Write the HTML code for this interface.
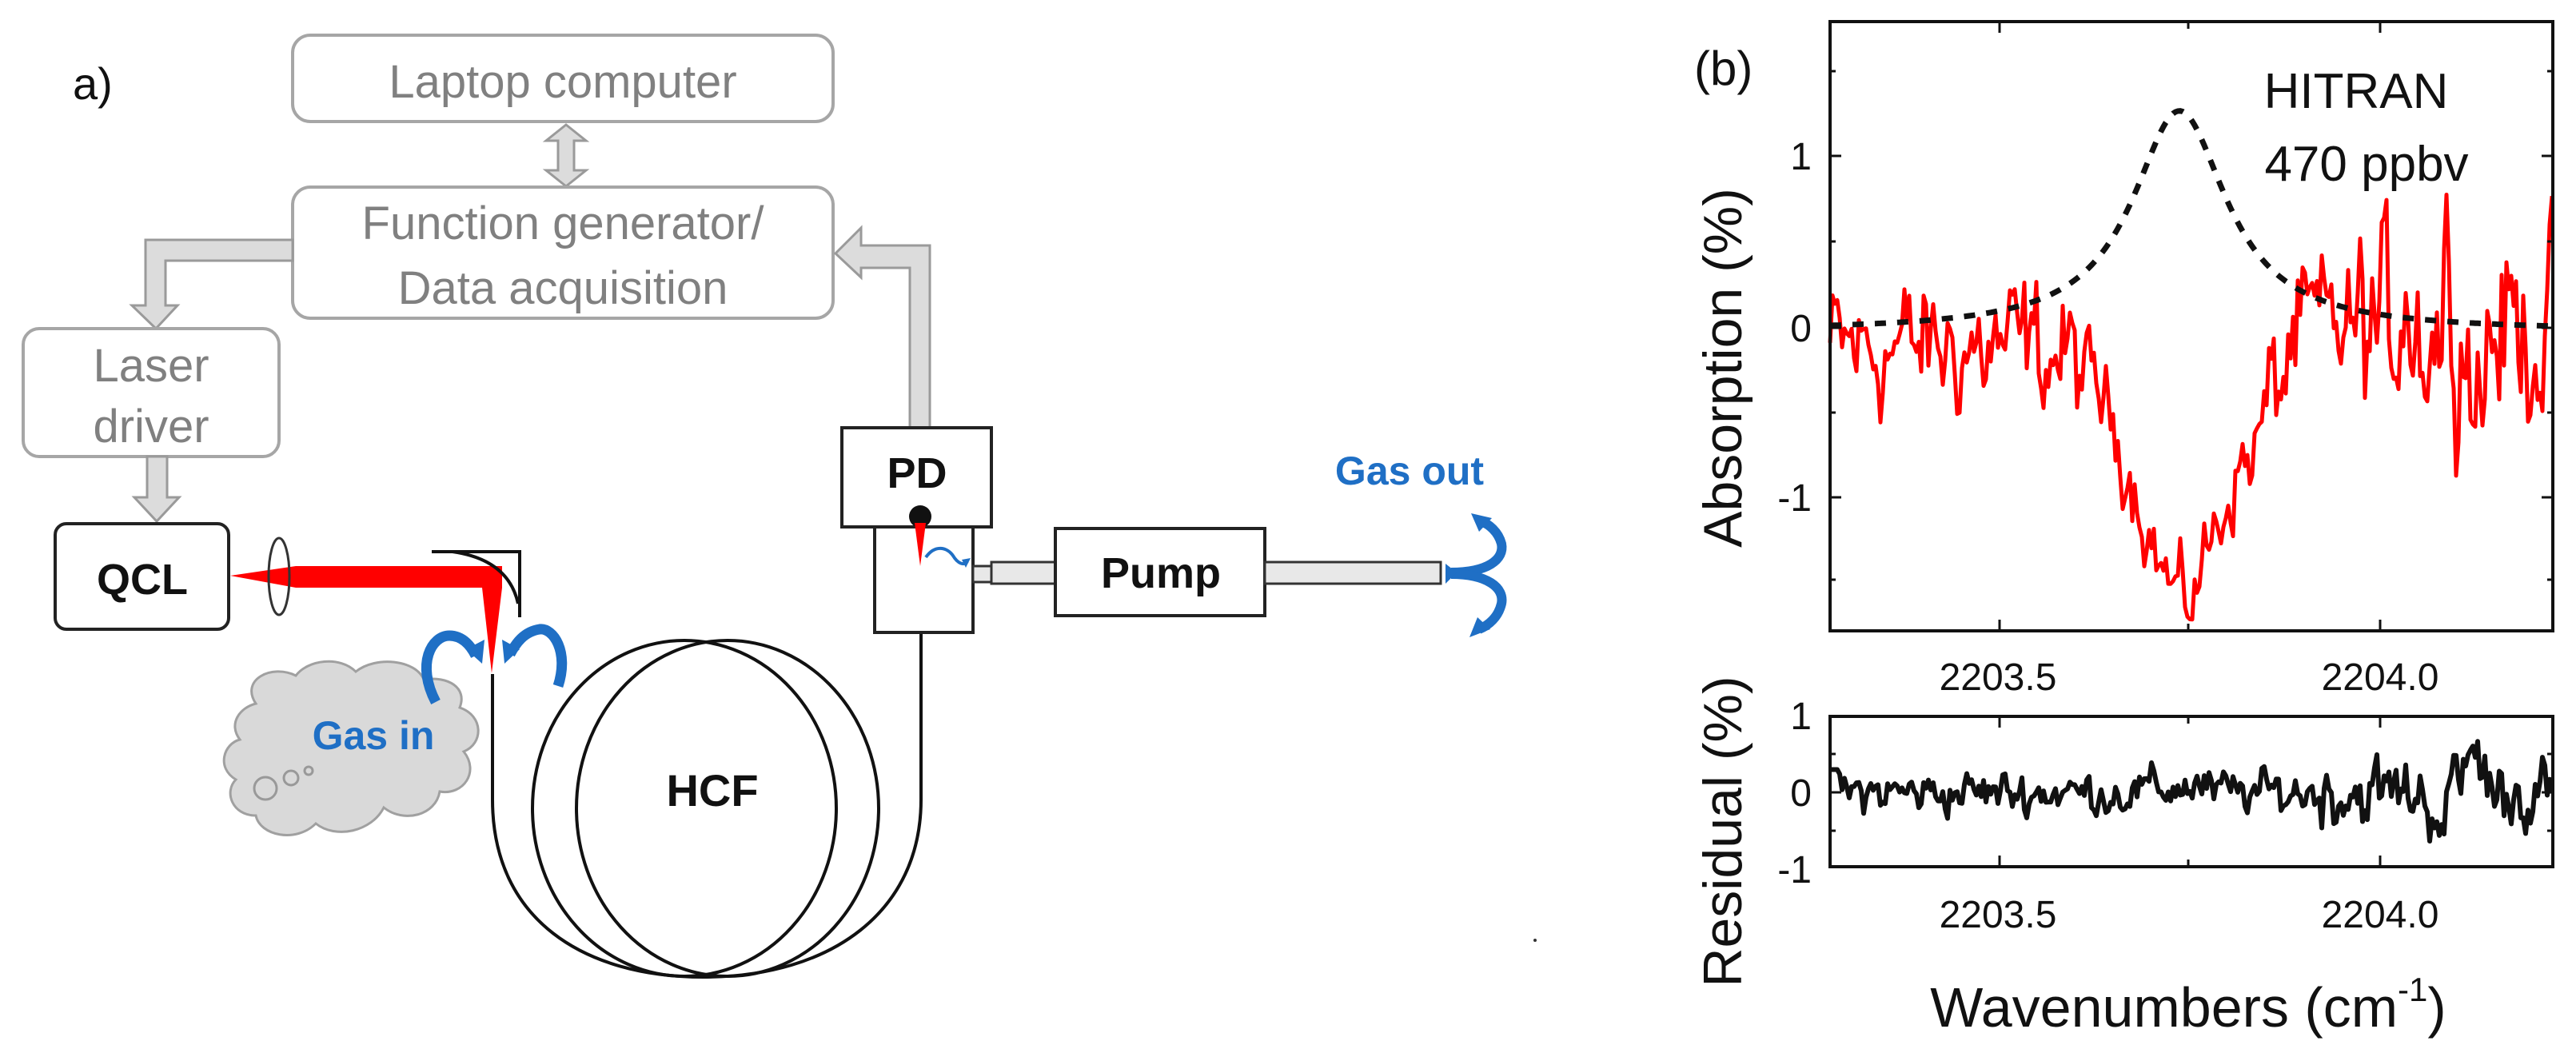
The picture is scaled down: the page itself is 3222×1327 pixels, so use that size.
<!DOCTYPE html>
<html><head><meta charset="utf-8"><style>
html,body{margin:0;padding:0;background:#fff;}
svg{display:block;}
text{font-family:"Liberation Sans",Arial,sans-serif;}
</style></head><body>
<svg id="s" width="3222" height="1327" viewBox="0 0 3222 1327" xmlns="http://www.w3.org/2000/svg">
<rect width="3222" height="1327" fill="#fff"/>
<text x="91" y="124" font-size="56" fill="#111">a)</text>
<rect x="366" y="44" width="676" height="108" rx="22" fill="#fff" stroke="#a6a6a6" stroke-width="4"/>
<text x="704" y="122" font-size="58" fill="#808080" text-anchor="middle">Laptop computer</text>
<polygon points="708,156 733,176 718,176 718,213 733,213 708,233 683,213 698,213 698,176 683,176" fill="#dcdcdc" stroke="#9a9a9a" stroke-width="3"/>
<rect x="366" y="234" width="676" height="164" rx="22" fill="#fff" stroke="#a6a6a6" stroke-width="4"/>
<text x="704" y="299" font-size="58" fill="#808080" text-anchor="middle">Function generator/</text>
<text x="704" y="380" font-size="58" fill="#808080" text-anchor="middle">Data acquisition</text>
<polygon points="366,300 182,300 182,382 165,382 195,411 222,382 207,382 207,326 366,326" fill="#dcdcdc" stroke="#9a9a9a" stroke-width="3"/>
<rect x="29" y="411" width="320" height="160" rx="20" fill="#fff" stroke="#a6a6a6" stroke-width="4"/>
<text x="189" y="477" font-size="58" fill="#808080" text-anchor="middle">Laser</text>
<text x="189" y="553" font-size="58" fill="#808080" text-anchor="middle">driver</text>
<polygon points="184,571 209,571 209,622 224,622 196,652 168,622 184,622" fill="#dcdcdc" stroke="#9a9a9a" stroke-width="3"/>
<rect x="69" y="655" width="217" height="132" rx="14" fill="#fff" stroke="#222" stroke-width="4"/>
<text x="178" y="743" font-size="54" font-weight="bold" fill="#111" text-anchor="middle">QCL</text>
<polygon points="288,720 370,708 628,708 628,735 615,842 603,735 370,735" fill="#ff0000"/>
<ellipse cx="349" cy="721" rx="13" ry="48" fill="none" stroke="#333" stroke-width="3"/>
<polyline points="540,690 650,690 650,772" fill="none" stroke="#111" stroke-width="4"/>
<path d="M566,690 Q636,700 648,755" fill="none" stroke="#111" stroke-width="4"/>
<g fill="none" stroke="#111" stroke-width="4">
<path d="M616,843 L616,1000 C616,1150 730,1222 880,1222 C1040,1222 1152,1140 1152,1000 L1152,710"/>
<ellipse cx="856" cy="1011" rx="190" ry="210"/>
<ellipse cx="910" cy="1011" rx="189" ry="210"/>
</g>
<g>
<path d="M320,880 C300,850 340,830 370,845 C385,825 425,820 445,840 C470,820 520,825 530,850 C560,845 585,860 575,885 C605,895 605,930 580,940 C600,965 580,995 550,990 C545,1020 505,1030 480,1010 C465,1040 420,1050 395,1030 C370,1055 325,1045 320,1020 C290,1020 280,990 295,975 C270,960 280,930 300,925 C285,905 300,885 320,880 Z" fill="#d9d9d9" stroke="#a0a0a0" stroke-width="3"/>
<circle cx="332" cy="986" r="14" fill="none" stroke="#999" stroke-width="3"/>
<circle cx="364" cy="973" r="9" fill="none" stroke="#999" stroke-width="3"/>
<circle cx="386" cy="964" r="5" fill="none" stroke="#999" stroke-width="3"/>
</g>
<text x="467" y="937" font-size="50" font-weight="bold" fill="#1f6fc5" text-anchor="middle">Gas in</text>
<g fill="none" stroke="#1f6fc5" stroke-width="13">
<path d="M545,878 C520,830 540,795 562,795 C580,795 590,810 595,820"/>
<path d="M698,858 C712,815 692,785 675,787 C655,790 645,805 638,818"/>
</g>
<polygon points="583,812 606,800 603,830" fill="#1f6fc5"/>
<polygon points="650,812 628,800 631,830" fill="#1f6fc5"/>
<text x="891" y="1008" font-size="56" font-weight="bold" fill="#111" text-anchor="middle">HCF</text>
<polygon points="1138,535 1138,335 1077,335 1077,347 1045,317 1077,285 1077,307 1163,307 1163,535" fill="#dcdcdc" stroke="#9a9a9a" stroke-width="3"/>
<rect x="1053" y="535" width="187" height="124" fill="#fff" stroke="#222" stroke-width="4"/>
<text x="1147" y="610" font-size="54" font-weight="bold" fill="#111" text-anchor="middle">PD</text>
<rect x="1094" y="659" width="123" height="132" fill="#fff" stroke="#222" stroke-width="4"/>
<circle cx="1151" cy="646" r="14" fill="#111"/>
<polygon points="1144,654 1158,654 1151,708" fill="#ff0000"/>
<path d="M1158,697 C1170,680 1185,685 1192,695 C1198,705 1206,708 1210,702" fill="none" stroke="#1f6fc5" stroke-width="4"/>
<polygon points="1203,700 1214,698 1208,710" fill="#1f6fc5"/>
<rect x="1217" y="708" width="23" height="20" fill="#e8e8e8" stroke="#333" stroke-width="3"/>
<rect x="1240" y="703" width="80" height="27" fill="#e8e8e8" stroke="#333" stroke-width="3"/>
<rect x="1320" y="661" width="262" height="109" fill="#fff" stroke="#222" stroke-width="4"/>
<text x="1452" y="735" font-size="54" font-weight="bold" fill="#111" text-anchor="middle">Pump</text>
<rect x="1582" y="703" width="220" height="27" fill="#e8e8e8" stroke="#333" stroke-width="3"/>
<text x="1763" y="606" font-size="50" font-weight="bold" fill="#1f6fc5" text-anchor="middle">Gas out</text>
<g fill="none" stroke="#1f6fc5" stroke-width="12">
<path d="M1815,716 C1860,716 1882,700 1878,680 C1874,665 1862,655 1852,652"/>
<path d="M1815,718 C1860,718 1882,735 1878,755 C1874,772 1862,782 1850,787"/>
</g>
<polygon points="1840,642 1866,648 1850,665" fill="#1f6fc5"/>
<polygon points="1838,797 1864,787 1848,772" fill="#1f6fc5"/>
<polygon points="1808,705 1822,716 1808,730" fill="#1f6fc5"/>
<circle cx="1920" cy="1176" r="2" fill="#333"/>

<text x="2119" y="106" font-size="60" fill="#111">(b)</text>
<g id="plot"></g>
<rect x="2289" y="27" width="904" height="762" fill="none" stroke="#111" stroke-width="4"/>
<rect x="2289" y="896" width="904" height="188" fill="none" stroke="#111" stroke-width="4"/>
<g stroke="#111" stroke-width="3">
<line x1="2289" y1="195" x2="2303" y2="195"/><line x1="2289" y1="410" x2="2303" y2="410"/><line x1="2289" y1="622" x2="2303" y2="622"/>
<line x1="2289" y1="89" x2="2296" y2="89"/><line x1="2289" y1="302" x2="2296" y2="302"/><line x1="2289" y1="516" x2="2296" y2="516"/><line x1="2289" y1="725" x2="2296" y2="725"/>
<line x1="3193" y1="195" x2="3179" y2="195"/><line x1="3193" y1="410" x2="3179" y2="410"/><line x1="3193" y1="622" x2="3179" y2="622"/>
<line x1="3193" y1="89" x2="3186" y2="89"/><line x1="3193" y1="302" x2="3186" y2="302"/><line x1="3193" y1="516" x2="3186" y2="516"/><line x1="3193" y1="725" x2="3186" y2="725"/>
<line x1="2501" y1="789" x2="2501" y2="775"/><line x1="2737" y1="789" x2="2737" y2="780"/><line x1="2977" y1="789" x2="2977" y2="775"/>
<line x1="2501" y1="27" x2="2501" y2="41"/><line x1="2737" y1="27" x2="2737" y2="36"/><line x1="2977" y1="27" x2="2977" y2="41"/>
<line x1="2501" y1="896" x2="2501" y2="910"/><line x1="2737" y1="896" x2="2737" y2="905"/><line x1="2977" y1="896" x2="2977" y2="910"/>
<line x1="2501" y1="1084" x2="2501" y2="1070"/><line x1="2737" y1="1084" x2="2737" y2="1075"/><line x1="2977" y1="1084" x2="2977" y2="1070"/>
<line x1="2289" y1="991" x2="2303" y2="991"/><line x1="2289" y1="943" x2="2296" y2="943"/><line x1="2289" y1="1039" x2="2296" y2="1039"/>
<line x1="3193" y1="991" x2="3179" y2="991"/><line x1="3193" y1="943" x2="3186" y2="943"/><line x1="3193" y1="1039" x2="3186" y2="1039"/>
</g>
<g font-size="48" fill="#111" text-anchor="end">
<text x="2266" y="212">1</text><text x="2266" y="427">0</text><text x="2266" y="639">-1</text>
<text x="2266" y="912">1</text><text x="2266" y="1008">0</text><text x="2266" y="1104">-1</text>
</g>
<g font-size="48" fill="#111" text-anchor="middle">
<text x="2499" y="863">2203.5</text><text x="2977" y="863">2204.0</text>
<text x="2499" y="1160">2203.5</text><text x="2977" y="1160">2204.0</text>
</g>
<text x="2947" y="135" font-size="62" fill="#111" text-anchor="middle">HITRAN</text>
<text x="2960" y="226" font-size="62" fill="#111" text-anchor="middle">470 ppbv</text>
<text transform="translate(2178,460) rotate(-90)" font-size="68" fill="#111" text-anchor="middle">Absorption (%)</text>
<text transform="translate(2178,1040) rotate(-90)" font-size="68" fill="#111" text-anchor="middle">Residual (%)</text>
<text x="2737" y="1284" font-size="70" fill="#111" text-anchor="middle">Wavenumbers (cm<tspan font-size="42" dy="-32">-1</tspan><tspan dy="32">)</tspan></text>
</svg>
<script>
(function(){
var NS="http://www.w3.org/2000/svg",g=document.getElementById("plot");
var seed=12345;function rnd(){seed=(seed*1103515245+12345)%2147483648;return seed/2147483648;}
function gauss(){return (rnd()+rnd()+rnd()-1.5)*1.2;}
var x0=2289,x1=3193;
var d="",n1=0,n2=0;
for(var x=x0;x<=x1;x+=3){
 var base=-0.12;
 if(x>2860)base=0.0;
 var dip=0;
 if(x<2737){dip=-1.5*Math.exp(-Math.pow((x-2737)/85,2));}
 else if(x<2800){dip=-1.5+(x-2737)/63*0.8;}
 else {dip=-0.7*Math.exp(-Math.pow((x-2800)/45,2));}
 var amp=x>2950?0.55:0.4;
 if(x>2600&&x<2830)amp=0.25;
 n1=0.55*n1+0.45*gauss();
 var v=base+dip+amp*n1*1.6;
 if(x>3000&&x<3015)v+=0.35; if(x>3055&&x<3068)v+=0.35;
 if(x>3090&&x<3110)v-=0.35;
 var y=410-212*v;
 d+=(d?"L":"M")+x+","+y.toFixed(1);
}
var p=document.createElementNS(NS,"path");p.setAttribute("d",d);p.setAttribute("fill","none");p.setAttribute("stroke","#ff0000");p.setAttribute("stroke-width","5");p.setAttribute("stroke-linejoin","round");g.appendChild(p);
d="";
for(var x=x0;x<=x1;x+=3){
 var v=1.3/(1+Math.pow((x-2726)/72,2))-0.02;
 var y=410-212*v;
 d+=(d?"L":"M")+x+","+y.toFixed(1);
}
p=document.createElementNS(NS,"path");p.setAttribute("d",d);p.setAttribute("fill","none");p.setAttribute("stroke","#111");p.setAttribute("stroke-width","7");p.setAttribute("stroke-dasharray","14,14");g.appendChild(p);
d="";
for(var x=x0;x<=x1;x+=3){
 n2=0.5*n2+0.5*gauss();
 var amp=x>2900?0.45:0.28;
 var b=0;
 if(x>2650&&x<2760)b=0.1*(x-2650)/110;
 if(x>3080&&x<3110)b=0.45;
 if(x>3030&&x<3060)b=-0.2;
 var v=b+amp*n2*1.5;
 if(x<2300)v=0.3;
 var y=991-95*v;
 d+=(d?"L":"M")+x+","+y.toFixed(1);
}
p=document.createElementNS(NS,"path");p.setAttribute("d",d);p.setAttribute("fill","none");p.setAttribute("stroke","#111");p.setAttribute("stroke-width","6");p.setAttribute("stroke-linejoin","round");g.appendChild(p);
})();
</script>
</body></html>
